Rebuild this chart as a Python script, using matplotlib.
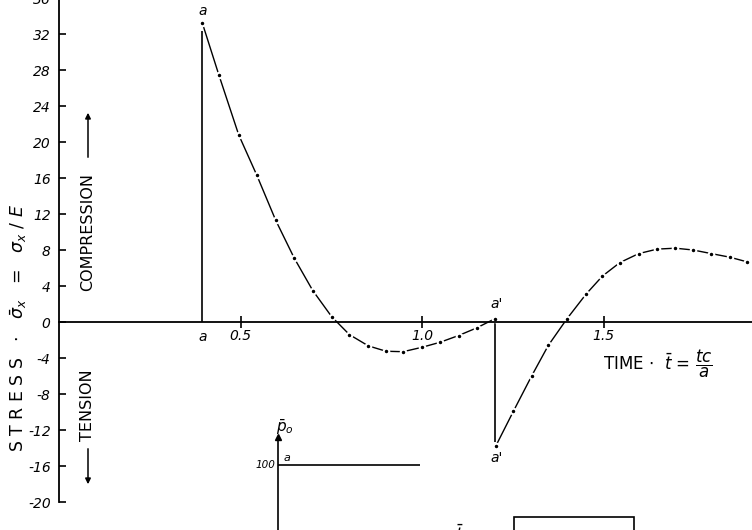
import matplotlib.pyplot as plt
from matplotlib.patches import Rectangle

# stress history
t_load = 0.395
t_refl = 1.201
t1 = [0.395, 0.440, 0.495, 0.545, 0.597, 0.648, 0.699, 0.751, 0.800, 0.852,
      0.901, 0.948, 1.001, 1.050, 1.101, 1.151, 1.201]
s1 = [33.2, 27.5, 20.8, 16.3, 11.3, 7.1, 3.5, 0.6, -1.4, -2.65,
      -3.25, -3.3, -2.8, -2.25, -1.5, -0.65, 0.37]
t2 = [1.203, 1.252, 1.302, 1.348, 1.399, 1.452, 1.497, 1.545, 1.597, 1.648,
      1.698, 1.747, 1.797, 1.848, 1.894]
s2 = [-13.8, -9.9, -6.0, -2.6, 0.34, 3.1, 5.1, 6.6, 7.6, 8.1,
      8.2, 8.0, 7.6, 7.2, 6.7]
yticks = list(range(-20, 37, 4))
xticks = [0.5, 1.0, 1.5]
xticklabels = ['0.5', '1.0', '1.5']

# inset: applied pressure p0
p_t = [0.0, 1.0]
p_val = [100, 100]

W, H = 752, 530
fig = plt.figure(figsize=(W / 100, H / 100), dpi=100)


def box(x0, y0, x1, y1):
    return [x0 / W, 1 - y1 / H, (x1 - x0) / W, (y1 - y0) / H]


def fx(x):
    return x / W


def fy(y):
    return 1 - y / H


ax = fig.add_axes(box(59, -2, 752, 502))
ax.set_xlim(0, (752 - 59) / 363)
ax.set_ylim(-20, 36)
for s in ['top', 'right']:
    ax.spines[s].set_visible(False)
ax.spines['bottom'].set_position(('data', 0))
ax.spines['left'].set_linewidth(1.3)
ax.spines['bottom'].set_linewidth(1.3)

ax.set_yticks(yticks)
ax.set_yticklabels([str(v) for v in yticks], fontstyle='italic', fontsize=10)
ax.tick_params(axis='y', direction='in', length=5, width=1.2, pad=6)
ax.set_xticks(xticks)
ax.set_xticklabels(xticklabels, fontstyle='italic', fontsize=10)
ax.tick_params(axis='x', direction='inout', length=8, width=1.2, pad=1)

ax.vlines(t_load, 0, s1[0] - 0.9, color='black', lw=1.2)
ax.vlines(t_refl, s2[0] + 0.5, s1[-1], color='black', lw=1.2)

kw = dict(color='black', lw=1.0, marker='o', ms=4, mfc='black', mec='white', mew=1.5)
ax.plot(t1, s1, **kw)
ax.plot(t2, s2, **kw)

# point labels
ax.text(t_load, 34.6, 'a', fontstyle='italic', fontsize=10, ha='center', va='center')
ax.text(t_load, -0.9, 'a', fontstyle='italic', fontsize=10, ha='center', va='top')
ax.text(t_refl + 0.005, s1[-1] + 0.8, "a'", fontstyle='italic', fontsize=10, ha='center', va='bottom')
ax.text(t_refl + 0.005, s2[0] - 0.5, "a'", fontstyle='italic', fontsize=10, ha='center', va='top')

# axis titles
fig.text(fx(19), fy(328), r'S T R E S S   $\cdot$   $\bar{\sigma}_x$   =   $\sigma_x$ / $E$',
         rotation=90, fontsize=12.5, ha='center', va='center')
fig.text(fx(88), fy(232), 'COMPRESSION', rotation=90, fontsize=11.5, ha='center', va='center')
fig.text(fx(88), fy(405), 'TENSION', rotation=90, fontsize=11.5, ha='center', va='center')
ax.annotate('', xy=(fx(88), fy(110)), xytext=(fx(88), fy(160)), xycoords='figure fraction',
            arrowprops=dict(arrowstyle='-|>', color='black', lw=1.1, mutation_scale=8))
ax.annotate('', xy=(fx(88), fy(487)), xytext=(fx(88), fy(446)), xycoords='figure fraction',
            arrowprops=dict(arrowstyle='-|>', color='black', lw=1.1, mutation_scale=8))
fig.text(fx(603), fy(364), r'TIME $\cdot$  $\bar{t}$ = $\dfrac{tc}{a}$', fontsize=12,
         ha='left', va='center')

# inset with the pressure pulse
ax2 = fig.add_axes(box(278, 437, 420, 535))
ax2.set_xlim(0, 1)
ax2.set_ylim(0, 140)
for s in ['top', 'right', 'bottom']:
    ax2.spines[s].set_visible(False)
ax2.spines['left'].set_linewidth(1.2)
ax2.set_xticks([])
ax2.set_yticks([])
ax2.patch.set_alpha(0)
ax2.plot(p_t, p_val, color='black', lw=1.2)
ax2.plot([0], [140], marker='^', color='black', ms=5, clip_on=False)
ax2.text(-0.02, 100, '100', fontsize=7.5, fontstyle='italic', ha='right', va='center')
ax2.text(0.04, 103, 'a', fontsize=8, fontstyle='italic', ha='left', va='bottom')
fig.text(fx(285), fy(427), r'$\bar{p}_o$', fontsize=11, ha='center', va='center')

fig.text(fx(455), fy(535), r'$\bar{t}$  =', fontsize=12, ha='left', va='center')
fig.patches.append(Rectangle((fx(514), fy(545)), (634 - 514) / W, 28 / H,
                             transform=fig.transFigure, fill=False, lw=1.2, color='black'))

fig.savefig('out.png', dpi=100)
